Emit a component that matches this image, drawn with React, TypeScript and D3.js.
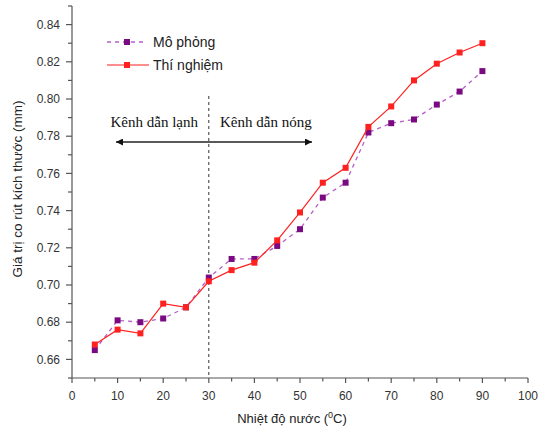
import React from "react";
import * as d3 from "d3";

const temps = [5, 10, 15, 20, 25, 30, 35, 40, 45, 50, 55, 60, 65, 70, 75, 80, 85, 90];
const simulation = [0.665, 0.681, 0.680, 0.682, 0.688, 0.704, 0.714, 0.714, 0.721, 0.730, 0.747, 0.755, 0.782, 0.787, 0.789, 0.797, 0.804, 0.815];
const experiment = [0.668, 0.676, 0.674, 0.690, 0.688, 0.702, 0.708, 0.712, 0.724, 0.739, 0.755, 0.763, 0.785, 0.796, 0.810, 0.819, 0.825, 0.830];
const xMajor = [0, 10, 20, 30, 40, 50, 60, 70, 80, 90, 100];
const xMinor = [5, 15, 25, 35, 45, 55, 65, 75, 85, 95];
const yMajor = [0.66, 0.68, 0.70, 0.72, 0.74, 0.76, 0.78, 0.80, 0.82, 0.84];
const yMinor = [0.65, 0.67, 0.69, 0.71, 0.73, 0.75, 0.77, 0.79, 0.81, 0.83, 0.85];
const seriesNames = ["Mô phỏng", "Thí nghiệm"];
const regionLabels = ["Kênh dẫn lạnh", "Kênh dẫn nóng"];
const dividerTemp = 30;

export default function App() {
  const W = 542, H = 428;
  const x = d3.scaleLinear().domain([0, 100]).range([72, 528]);
  const y = d3.scaleLinear().domain([0.65, 0.85]).range([378, 6]);
  const line = d3.line<number>().x((_, i) => x(temps[i])).y((d) => y(d));
  const axisColor = "#555";
  const sans = "'Liberation Sans', Arial, sans-serif";
  const serif = "'Liberation Serif', 'DejaVu Serif', serif";
  const purpleLine = "#b55fc8";
  const purpleMark = "#7a0a82";
  const red = "#ff2020";
  const ms = 6;
  const divX = x(dividerTemp);
  return (
    <svg width={W} height={H} style={{ position: "absolute", left: 0, top: 0, background: "#fff" }}>
      <defs>
        <marker id="ah" viewBox="0 0 10 10" refX="10" refY="5" markerWidth="9" markerHeight="7" markerUnits="userSpaceOnUse" orient="auto-start-reverse">
          <path d="M0,0 L10,5 L0,10 z" fill="#111" />
        </marker>
      </defs>
      <line x1={x(0)} x2={x(0)} y1={y(0.85)} y2={y(0.65)} stroke={axisColor} strokeWidth={1.2} />
      <line x1={x(0)} x2={x(100)} y1={y(0.65)} y2={y(0.65)} stroke={axisColor} strokeWidth={1.2} />
      {yMajor.map((v) => (
        <g key={"ym" + v}>
          <line x1={x(0) - 6} x2={x(0)} y1={y(v)} y2={y(v)} stroke={axisColor} strokeWidth={1.2} />
          <text x={60} y={y(v)} dy="0.35em" textAnchor="end" fontFamily={sans} fontSize={12} fill="#333">{v.toFixed(2)}</text>
        </g>
      ))}
      {yMinor.map((v) => (
        <line key={"yn" + v} x1={x(0) - 4} x2={x(0)} y1={y(v)} y2={y(v)} stroke={axisColor} strokeWidth={1.2} />
      ))}
      {xMajor.map((v) => (
        <g key={"xm" + v}>
          <line x1={x(v)} x2={x(v)} y1={y(0.65)} y2={y(0.65) + 5} stroke={axisColor} strokeWidth={1.2} />
          <text x={x(v)} y={400} textAnchor="middle" fontFamily={sans} fontSize={12} fill="#333">{v}</text>
        </g>
      ))}
      {xMinor.map((v) => (
        <line key={"xn" + v} x1={x(v)} x2={x(v)} y1={y(0.65)} y2={y(0.65) + 3.5} stroke={axisColor} strokeWidth={1.2} />
      ))}
      <text x={292} y={423} textAnchor="middle" fontFamily={sans} fontSize={13} fill="#222">
        Nhiệt độ nước (<tspan fontSize={9} dy={-5}>0</tspan><tspan dy={5}>C)</tspan>
      </text>
      <text transform={`translate(22,189) rotate(-90)`} textAnchor="middle" fontFamily={sans} fontSize={13.5} fill="#222">
        Giá trị co rút kích thước (mm)
      </text>
      <line x1={divX} x2={divX} y1={96} y2={y(0.65)} stroke="#333" strokeWidth={1} strokeDasharray="3,3" />
      <line x1={116} x2={312} y1={142} y2={142} stroke="#222" strokeWidth={1.5} markerStart="url(#ah)" markerEnd="url(#ah)" />
      <text x={198} y={127} textAnchor="end" fontFamily={serif} fontSize={15} fill="#111">{regionLabels[0]}</text>
      <text x={220} y={127} textAnchor="start" fontFamily={serif} fontSize={15} fill="#111">{regionLabels[1]}</text>
      <path d={line(simulation) || ""} fill="none" stroke={purpleLine} strokeWidth={1.3} strokeDasharray="4,4" />
      {simulation.map((v, i) => (
        <rect key={"s" + i} x={x(temps[i]) - ms / 2} y={y(v) - ms / 2} width={ms} height={ms} fill={purpleMark} />
      ))}
      <path d={line(experiment) || ""} fill="none" stroke={red} strokeWidth={1.2} />
      {experiment.map((v, i) => (
        <rect key={"e" + i} x={x(temps[i]) - ms / 2} y={y(v) - ms / 2} width={ms} height={ms} fill={red} />
      ))}
      <line x1={107} x2={147} y1={42} y2={42} stroke={purpleLine} strokeWidth={1.3} strokeDasharray="4,4" />
      <rect x={127 - 3} y={42 - 3} width={6} height={6} fill={purpleMark} />
      <text x={153} y={42} dy="0.35em" fontFamily={sans} fontSize={14} fill="#222">{seriesNames[0]}</text>
      <line x1={107} x2={149} y1={65} y2={65} stroke={red} strokeWidth={1.2} />
      <rect x={127 - 3} y={65 - 3} width={6} height={6} fill={red} />
      <text x={153} y={65} dy="0.35em" fontFamily={sans} fontSize={14} fill="#222">{seriesNames[1]}</text>
    </svg>
  );
}
